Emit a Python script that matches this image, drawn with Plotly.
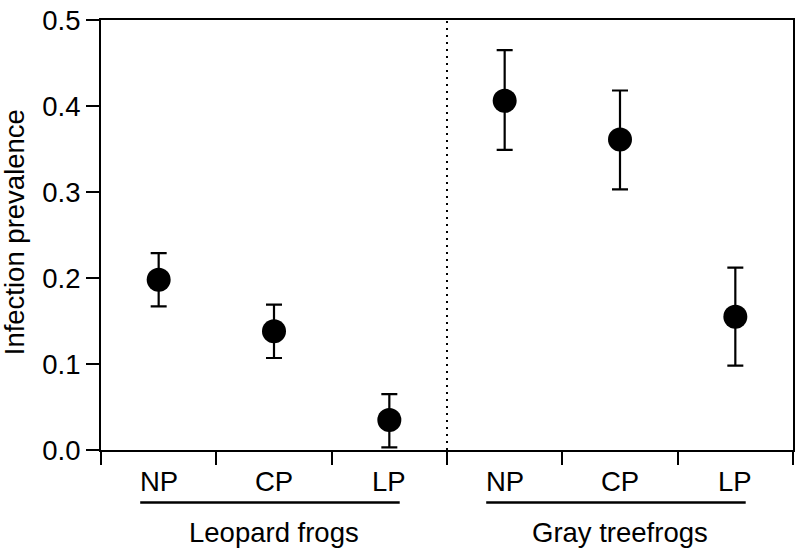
import plotly.graph_objects as go

groups = ["Leopard frogs", "Gray treefrogs"]
categories = ["NP", "CP", "LP", "NP", "CP", "LP"]
prevalence = [0.198, 0.138, 0.035, 0.406, 0.361, 0.155]
err_upper = [0.229, 0.169, 0.065, 0.465, 0.418, 0.212]
err_lower = [0.167, 0.107, 0.003, 0.349, 0.303, 0.098]
y_ticks = [0.0, 0.1, 0.2, 0.3, 0.4, 0.5]

xpos = [i + 0.5 for i in range(len(categories))]
plus = [u - v for u, v in zip(err_upper, prevalence)]
minus = [v - l for l, v in zip(err_lower, prevalence)]

FONT = "Liberation Sans, Arial, Helvetica, sans-serif"
FS = 27.5

fig = go.Figure()
fig.add_trace(go.Scatter(
    x=xpos, y=prevalence, mode="markers",
    marker=dict(size=24, color="black"),
    error_y=dict(type="data", symmetric=False, array=plus, arrayminus=minus,
                 color="black", thickness=2.2, width=8),
    cliponaxis=False, showlegend=False,
))

# dotted separator between groups
fig.add_shape(type="line", xref="x", yref="y", x0=3, x1=3, y0=0, y1=0.5,
              line=dict(color="black", width=2, dash="2px,5px"))

for x, c in zip(xpos, categories):
    fig.add_annotation(x=x, y=-0.0726, xref="x", yref="paper", text=c,
                       showarrow=False, font=dict(size=FS, color="black", family=FONT),
                       xanchor="center", yanchor="middle")
for gi, g in enumerate(groups):
    start = gi * 3
    fig.add_shape(type="line", xref="x", yref="paper", x0=start + 0.34, x1=start + 2.59,
                  y0=-0.122, y1=-0.122, line=dict(color="black", width=2.5))
    fig.add_annotation(x=start + 1.5, y=-0.192, xref="x", yref="paper", text=g,
                       showarrow=False, font=dict(size=FS, color="black", family=FONT),
                       xanchor="center", yanchor="middle")

fig.add_annotation(x=-0.1239, y=0.507, xref="paper", yref="paper", text="Infection prevalence",
                   showarrow=False, textangle=-90, xanchor="center", yanchor="middle",
                   font=dict(size=FS, color="black", family=FONT))

fig.update_layout(
    width=800, height=554,
    margin=dict(l=101, r=5, t=16, b=104),
    paper_bgcolor="white", plot_bgcolor="white",
    font=dict(family=FONT, color="black"),
    xaxis=dict(range=[0, 6], tickvals=list(range(7)), ticktext=[""] * 7,
               ticks="outside", ticklen=13, tickwidth=1.5, tickcolor="black",
               showline=True, linecolor="black", linewidth=2, mirror=True,
               showgrid=False, zeroline=False),
    yaxis=dict(range=[0, 0.5], tickvals=y_ticks, ticktext=[f"{v:.1f}" for v in y_ticks],
               ticks="outside", ticklen=13, tickwidth=1.5, tickcolor="black",
               tickfont=dict(size=FS, color="black", family=FONT),
               showline=True, linecolor="black", linewidth=2, mirror=True,
               showgrid=False, zeroline=False),
)

fig.write_html("out.html", config={"displayModeBar": False},
               post_script="document.body.style.margin='0px';")
